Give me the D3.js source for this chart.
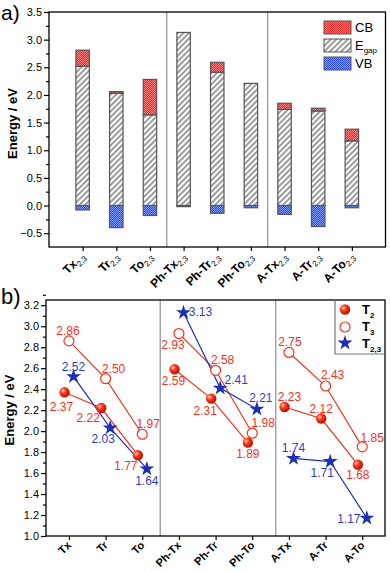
<!DOCTYPE html>
<html lang="en">
<head>
<meta charset="UTF-8">
<title>Energy levels</title>
<script src="https://d3js.org/d3.v7.min.js"></script>
<style>
    body { margin: 0; background: #fff; }
    svg text { font-family: Arial, "Liberation Sans", sans-serif; }
</style>
</head>
<body>
<svg id="chart" width="390" height="571"></svg>
<script>
    // panel a data
    const compounds = ["Tx", "Tr", "To", "Ph-Tx", "Ph-Tr", "Ph-To", "A-Tx", "A-Tr", "A-To"];
    const egapTop = [2.52, 2.03, 1.64, 3.13, 2.41, 2.21, 1.74, 1.71, 1.17];
    const cbTop = [2.81, 2.06, 2.28, 3.13, 2.59, 2.21, 1.85, 1.76, 1.38];
    const vbBottom = [-0.08, -0.40, -0.18, -0.02, -0.14, -0.04, -0.16, -0.38, -0.04];
    const yTicksA = [-0.5, 0, 0.5, 1, 1.5, 2, 2.5, 3, 3.5];
    const legendA = ["CB", "E", "VB"];

    // panel b data
    const t2 = [2.37, 2.22, 1.77, 2.59, 2.31, 1.89, 2.23, 2.12, 1.68];
    const t3 = [2.86, 2.50, 1.97, 2.93, 2.58, 1.98, 2.75, 2.43, 1.85];
    const t23 = [2.52, 2.03, 1.64, 3.13, 2.41, 2.21, 1.74, 1.71, 1.17];
    const yTicksB = [1.0, 1.2, 1.4, 1.6, 1.8, 2.0, 2.2, 2.4, 2.6, 2.8, 3.0, 3.2];

    // label offsets (px) for the value labels in panel b
    const t2Lab = [[-3, 14], [-13, 10], [-12, 11], [-1, 12], [-6, 12], [0, 11], [5, -10], [0, -10], [0, 10]];
    const t3Lab = [[-1, -10], [8, -10], [6, -10], [-6, 11], [7, -10], [11, -10], [1, -11], [7, -11], [10, -9]];
    const t23Lab = [[0, -10], [-7, 11], [0, 12], [17, -1], [16, -8], [4, -11], [0, -11], [-8, 11], [-18, 1]];

    const RED = "#f4321e", BLUE = "#1f2fb5", SEP = "#8d9ca8";

    const svg = d3.select("#chart");
    const defs = svg.append("defs");

    // patterns
    const hatch = defs.append("pattern").attr("id", "hatch")
        .attr("width", 4).attr("height", 4)
        .attr("patternUnits", "userSpaceOnUse")
        .attr("patternTransform", "rotate(45)");
    hatch.append("rect").attr("width", 4).attr("height", 4).attr("fill", "#fff");
    hatch.append("line").attr("x1", 1).attr("y1", 0).attr("x2", 1).attr("y2", 4)
        .attr("stroke", "#4a4a4a").attr("stroke-width", 1.1);

    function checker(id, base, dot) {
        const p = defs.append("pattern").attr("id", id)
            .attr("width", 2).attr("height", 2)
            .attr("patternUnits", "userSpaceOnUse");
        p.append("rect").attr("width", 2).attr("height", 2).attr("fill", base);
        p.append("rect").attr("width", 1).attr("height", 1).attr("fill", dot);
        p.append("rect").attr("x", 1).attr("y", 1).attr("width", 1).attr("height", 1).attr("fill", dot);
    }
    checker("cbPat", "#e82a2a", "#ff7a7a");
    checker("vbPat", "#2f4fe0", "#7a96ff");

    const sphere = defs.append("radialGradient").attr("id", "sphere")
        .attr("cx", "35%").attr("cy", "35%").attr("r", "65%");
    sphere.append("stop").attr("offset", "0%").attr("stop-color", "#ffd8c8");
    sphere.append("stop").attr("offset", "40%").attr("stop-color", "#ff3a1e");
    sphere.append("stop").attr("offset", "100%").attr("stop-color", "#b81200");

    // ---------------- panel a ----------------
    const A = { l: 49, r: 385.5, t: 12, b: 247 };
    const xA = d3.scaleLinear().domain([0, 10]).range([A.l, A.r]);
    const yA = d3.scaleLinear().domain([-0.75, 3.5]).range([A.b, A.t]);
    const bw = (xA(1) - xA(0)) * 0.4;

    const gA = svg.append("g");

    [3.5, 6.5].forEach(v => {
        gA.append("line").attr("x1", xA(v)).attr("x2", xA(v))
            .attr("y1", A.t).attr("y2", A.b)
            .attr("stroke", SEP).attr("stroke-width", 1.3);
    });

    const bars = gA.append("g").selectAll("g").data(compounds).join("g");
    bars.append("rect")
        .attr("x", (d, i) => xA(i + 1) - bw / 2).attr("width", bw)
        .attr("y", (d, i) => yA(egapTop[i])).attr("height", (d, i) => yA(0) - yA(egapTop[i]))
        .attr("fill", "url(#hatch)").attr("stroke", "#555").attr("stroke-width", 1.2);
    bars.filter((d, i) => cbTop[i] - egapTop[i] > 0.005).append("rect")
        .attr("x", d => xA(compounds.indexOf(d) + 1) - bw / 2).attr("width", bw)
        .attr("y", d => yA(cbTop[compounds.indexOf(d)]))
        .attr("height", d => yA(egapTop[compounds.indexOf(d)]) - yA(cbTop[compounds.indexOf(d)]))
        .attr("fill", "url(#cbPat)").attr("stroke", "#555").attr("stroke-width", 1.2);
    bars.append("rect")
        .attr("x", (d, i) => xA(i + 1) - bw / 2).attr("width", bw)
        .attr("y", yA(0)).attr("height", (d, i) => yA(vbBottom[i]) - yA(0))
        .attr("fill", "url(#vbPat)").attr("stroke", "#555").attr("stroke-width", 1.2);

    function styleAxis(g) {
        g.select(".domain").remove();
        g.selectAll(".tick line").attr("stroke", "#000").attr("stroke-width", 1.2);
        g.selectAll("text").attr("fill", "#000").style("font-size", "11px");
    }

    gA.append("g").attr("transform", `translate(${A.l},0)`)
        .call(d3.axisLeft(yA).tickValues(yTicksA).tickSize(5).tickPadding(2).tickFormat(d3.format(".1f")))
        .call(styleAxis);
    gA.append("g").attr("transform", `translate(${A.l},0)`)
        .call(d3.axisLeft(yA).tickValues(yTicksA.map(v => v + 0.25).filter(v => v < 3.5)).tickSize(3).tickFormat(""))
        .call(styleAxis);
    gA.append("g").attr("transform", `translate(0,${A.b})`)
        .call(d3.axisBottom(xA).tickValues(d3.range(1, 10)).tickSize(4).tickFormat(""))
        .call(styleAxis);

    gA.append("rect").attr("x", A.l).attr("y", A.t)
        .attr("width", A.r - A.l).attr("height", A.b - A.t)
        .attr("fill", "none").attr("stroke", "#000").attr("stroke-width", 1.3);

    const labA = gA.append("g").selectAll("text").data(compounds).join("text")
        .attr("transform", (d, i) => `translate(${xA(i + 1) + 3},${A.b + 10}) rotate(-45)`)
        .attr("text-anchor", "end")
        .style("font-weight", "bold").style("font-size", "12px");
    labA.append("tspan").text(d => d);
    labA.append("tspan").attr("dy", 3).style("font-size", "8px").style("font-weight", "normal").text("2,3");

    gA.append("text").attr("transform", `translate(17,${(A.t + A.b) / 2 - 6}) rotate(-90)`)
        .attr("text-anchor", "middle").style("font-weight", "bold").style("font-size", "13px")
        .text("Energy / eV");

    svg.append("text").attr("x", 1).attr("y", 20).style("font-size", "21px").text("a)");

    // legend a
    const fillsA = ["url(#cbPat)", "url(#hatch)", "url(#vbPat)"];
    const legA = gA.append("g").selectAll("g").data(legendA).join("g")
        .attr("transform", (d, i) => `translate(324,${21 + i * 18})`);
    legA.append("rect").attr("width", 27).attr("height", 13)
        .attr("fill", (d, i) => fillsA[i]).attr("stroke", "#555").attr("stroke-width", 1);
    const legAt = legA.append("text").attr("x", 31).attr("y", 11).style("font-size", "13px");
    legAt.append("tspan").text(d => d);
    legAt.filter(d => d === "E").append("tspan").attr("dy", 3).style("font-size", "8px").text("gap");

    // ---------------- panel b ----------------
    const B = { l: 46, r: 385, t: 300, b: 536 };
    const xB = d3.scaleLinear().domain([0.374, 9.62]).range([B.l, B.r]);
    const yB = d3.scaleLinear().domain([1.0, 3.25]).range([B.b, B.t]);
    const off2 = -0.12, off23 = 0.125;

    const gB = svg.append("g");

    [3.49, 6.64].forEach(v => {
        gB.append("line").attr("x1", xB(v)).attr("x2", xB(v))
            .attr("y1", B.t).attr("y2", B.b)
            .attr("stroke", SEP).attr("stroke-width", 1.3);
    });

    gB.append("g").attr("transform", `translate(${B.l},0)`)
        .call(d3.axisLeft(yB).tickValues(yTicksB).tickSize(5).tickPadding(2).tickFormat(d3.format(".1f")))
        .call(styleAxis);
    gB.append("g").attr("transform", `translate(${B.l},0)`)
        .call(d3.axisLeft(yB).tickValues(yTicksB.map(v => v + 0.1)).tickSize(3).tickFormat(""))
        .call(styleAxis);
    gB.append("g").attr("transform", `translate(0,${B.b})`)
        .call(d3.axisBottom(xB).tickValues(d3.range(1, 10)).tickSize(4).tickFormat(""))
        .call(styleAxis);

    gB.append("rect").attr("x", B.l).attr("y", B.t)
        .attr("width", B.r - B.l).attr("height", B.b - B.t)
        .attr("fill", "none").attr("stroke", "#000").attr("stroke-width", 1.3);

    gB.append("g").selectAll("text").data(compounds).join("text")
        .attr("transform", (d, i) => `translate(${xB(i + 1) + 3},${B.b + 10}) rotate(-45)`)
        .attr("text-anchor", "end")
        .style("font-weight", "bold").style("font-size", "11px")
        .text(d => d);

    gB.append("text").attr("transform", `translate(14,${(B.t + B.b) / 2 - 8}) rotate(-90)`)
        .attr("text-anchor", "middle").style("font-weight", "bold").style("font-size", "13px")
        .text("Energy / eV");

    svg.append("text").attr("x", 1).attr("y", 304).style("font-size", "22px").text("b)");

    const groups = [[0, 1, 2], [3, 4, 5], [6, 7, 8]];
    const line = d3.line();
    function drawSeries(vals, off, color) {
        groups.forEach(gr => {
            gB.append("path")
                .attr("d", line(gr.map(i => [xB(i + 1 + off), yB(vals[i])])))
                .attr("fill", "none").attr("stroke", color).attr("stroke-width", 1.2);
        });
    }
    drawSeries(t3, 0, RED);
    drawSeries(t2, off2, RED);
    drawSeries(t23, off23, BLUE);

    gB.append("g").selectAll("circle").data(t3).join("circle")
        .attr("cx", (d, i) => xB(i + 1)).attr("cy", d => yB(d)).attr("r", 5)
        .attr("fill", "#fff").attr("stroke", RED).attr("stroke-width", 1.2);
    gB.append("g").selectAll("circle").data(t2).join("circle")
        .attr("cx", (d, i) => xB(i + 1 + off2)).attr("cy", d => yB(d)).attr("r", 5.2)
        .attr("fill", "url(#sphere)");
    const star = d3.symbol(d3.symbolStar).size(70);
    gB.append("g").selectAll("path").data(t23).join("path")
        .attr("transform", (d, i) => `translate(${xB(i + 1 + off23)},${yB(d)})`)
        .attr("d", star).attr("fill", BLUE);

    function drawLabels(vals, off, offs, color) {
        gB.append("g").selectAll("text").data(vals).join("text")
            .attr("x", (d, i) => xB(i + 1 + off) + offs[i][0])
            .attr("y", (d, i) => yB(d) + offs[i][1])
            .attr("dy", "0.35em").attr("text-anchor", "middle")
            .attr("fill", color).style("font-size", "12px")
            .text(d => d3.format(".2f")(d));
    }
    drawLabels(t3, 0, t3Lab, RED);
    drawLabels(t2, off2, t2Lab, RED);
    drawLabels(t23, off23, t23Lab, "#2a3fc4");

    // legend b
    const legB = gB.append("g");
    legB.append("path").attr("d", `M335,${B.t} V354 H${B.r}`)
        .attr("fill", "none").attr("stroke", "#777").attr("stroke-width", 1.2);
    legB.append("circle").attr("cx", 345).attr("cy", 309.5).attr("r", 5.2).attr("fill", "url(#sphere)");
    legB.append("circle").attr("cx", 345).attr("cy", 327).attr("r", 5)
        .attr("fill", "#fff").attr("stroke", RED).attr("stroke-width", 1.2);
    legB.append("path").attr("transform", "translate(345,343)").attr("d", star).attr("fill", BLUE);
    ["2", "3", "2,3"].forEach((s, i) => {
        const t = legB.append("text").attr("x", 362).attr("y", 314 + i * 17)
            .style("font-size", "13px").style("font-weight", "bold");
        t.append("tspan").text("T");
        t.append("tspan").attr("dy", 4).style("font-size", "8px").text(s);
    });
</script>
</body>
</html>
